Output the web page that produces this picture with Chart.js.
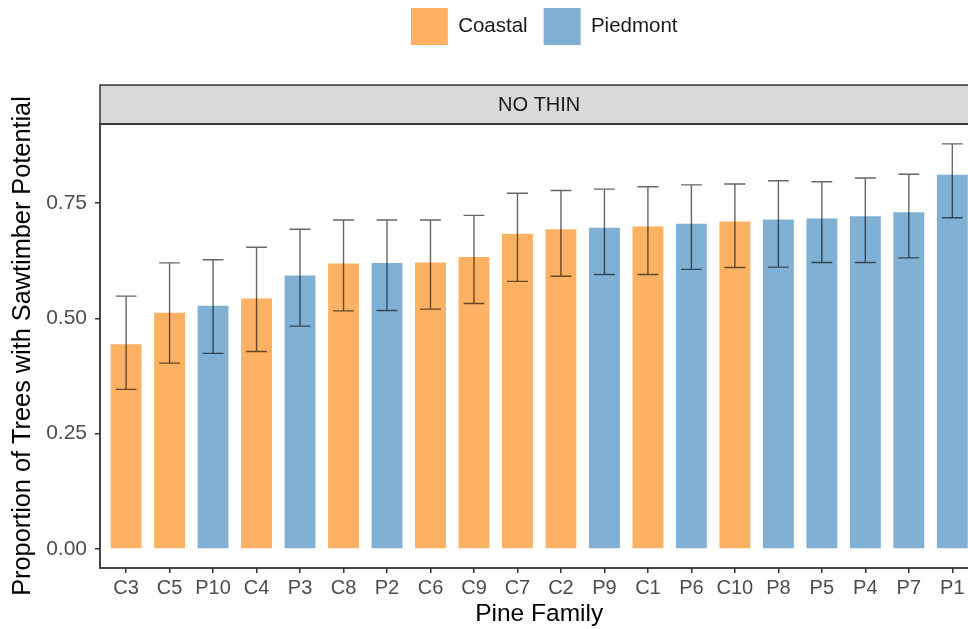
<!DOCTYPE html>
<html>
<head>
<meta charset="utf-8">
<script src="https://cdn.jsdelivr.net/npm/chart.js@4/dist/chart.umd.min.js"></script>
<style>
  html, body { margin: 0; padding: 0; background: #fff; overflow: hidden; }
  #wrap { width: 968px; height: 629px; overflow: hidden; }
  canvas { display: block; }
</style>
</head>
<body>
<div id="wrap"><canvas id="chart" width="980" height="629"></canvas></div>
<script>
// families, sorted by mean proportion
const families = ['C3', 'C5', 'P10', 'C4', 'P3', 'C8', 'P2', 'C6', 'C9', 'C7', 'C2', 'P9', 'C1', 'P6', 'C10', 'P8', 'P5', 'P4', 'P7', 'P1'];
const regions = ['Coastal', 'Coastal', 'Piedmont', 'Coastal', 'Piedmont', 'Coastal', 'Piedmont', 'Coastal', 'Coastal', 'Coastal',
                 'Coastal', 'Piedmont', 'Coastal', 'Piedmont', 'Coastal', 'Piedmont', 'Piedmont', 'Piedmont', 'Piedmont', 'Piedmont'];
const means = [0.444, 0.512, 0.527, 0.543, 0.593, 0.619, 0.620, 0.621, 0.633, 0.683, 0.693, 0.696, 0.699, 0.705, 0.710, 0.714, 0.716, 0.721, 0.730, 0.811];
const lower = [0.346, 0.403, 0.424, 0.428, 0.483, 0.516, 0.517, 0.520, 0.532, 0.580, 0.591, 0.595, 0.595, 0.606, 0.610, 0.611, 0.621, 0.621, 0.631, 0.718];
const upper = [0.548, 0.620, 0.627, 0.654, 0.693, 0.713, 0.713, 0.713, 0.723, 0.771, 0.777, 0.780, 0.785, 0.789, 0.791, 0.798, 0.796, 0.804, 0.812, 0.878];
const yTicks = [0, 0.25, 0.5, 0.75];
const facetLabel = 'NO THIN';

const colors = { Coastal: '#FCB262', Piedmont: '#80B0D3' };
const FONT = '"Liberation Sans", Arial, sans-serif';

function seriesFor(region) {
  const pts = [];
  families.forEach((f, i) => {
    if (regions[i] === region) pts.push({ x: i, y: means[i], lo: lower[i], hi: upper[i] });
  });
  return pts;
}

// strip, panel border and error bars
const facetPlugin = {
  id: 'facet',
  afterLayout(chart) {
    // nudge legend right, like the ggplot legend
    chart.legend.left += 5;
    chart.legend.right += 5;
  },
  afterDatasetsDraw(chart) {
    const { ctx, chartArea: a, scales: { x, y } } = chart;
    ctx.save();
    ctx.strokeStyle = 'rgba(0,0,0,0.6)';
    ctx.lineWidth = 1.4;
    const half = x.getPixelForValue(0.24) - x.getPixelForValue(0);
    chart.data.datasets.forEach(ds => {
      ds.data.forEach(p => {
        const px = x.getPixelForValue(p.x);
        const yl = y.getPixelForValue(p.lo), yh = y.getPixelForValue(p.hi);
        ctx.beginPath();
        ctx.moveTo(px, yl); ctx.lineTo(px, yh);
        ctx.moveTo(px - half, yh); ctx.lineTo(px + half, yh);
        ctx.moveTo(px - half, yl); ctx.lineTo(px + half, yl);
        ctx.stroke();
      });
    });
    // strip
    const sh = 39;
    ctx.fillStyle = '#D9D9D9';
    ctx.fillRect(a.left, a.top - sh, a.right - a.left, sh);
    ctx.strokeStyle = '#333333';
    ctx.lineWidth = 1.5;
    ctx.strokeRect(a.left, a.top - sh, a.right - a.left, sh);
    ctx.fillStyle = '#1A1A1A';
    ctx.font = '20px ' + FONT;
    ctx.textAlign = 'center';
    ctx.textBaseline = 'middle';
    ctx.fillText(facetLabel, (a.left + a.right) / 2, a.top - sh / 2 + 1);
    // panel border
    ctx.lineWidth = 1.8;
    ctx.strokeRect(a.left, a.top, a.right - a.left, a.bottom - a.top);
    ctx.restore();
  }
};

new Chart(document.getElementById('chart'), {
  type: 'bar',
  data: {
    datasets: ['Coastal', 'Piedmont'].map(r => ({
      label: r,
      data: seriesFor(r),
      backgroundColor: colors[r],
      borderWidth: 0,
      grouped: false,
      barPercentage: 0.71,
      categoryPercentage: 1
    }))
  },
  options: {
    responsive: false,
    animation: false,
    layout: { padding: { top: -8, left: 0, right: 1.6, bottom: 0 } },
    scales: {
      x: {
        type: 'linear',
        min: -0.6,
        max: 19.6,
        offset: false,
        afterBuildTicks: s => { s.ticks = families.map((_, i) => ({ value: i })); },
        afterFit: s => { s.height = 61; },
        ticks: {
          autoSkip: false,
          maxRotation: 0,
          padding: 3,
          color: '#4D4D4D',
          font: { family: FONT, size: 20 },
          callback: v => families[v]
        },
        grid: { offset: false, drawOnChartArea: false, tickLength: 5, color: '#333333', lineWidth: 1.5 },
        border: { display: false },
        title: {
          display: true,
          text: 'Pine Family',
          color: '#000',
          font: { family: FONT, size: 24.5 },
          padding: { top: 0, bottom: 0 }
        }
      },
      strip: {
        type: 'linear',
        position: 'top',
        display: true,
        afterFit: s => { s.height = 69; },
        ticks: { display: false },
        grid: { display: false },
        border: { display: false }
      },
      y: {
        min: -0.041,
        max: 0.921,
        afterBuildTicks: s => { s.ticks = yTicks.map(v => ({ value: v })); },
        afterFit: s => { s.width = 100; },
        ticks: {
          padding: 8,
          color: '#4D4D4D',
          font: { family: FONT, size: 21 },
          callback: v => v.toFixed(2)
        },
        grid: { drawOnChartArea: false, tickLength: 5, color: '#333333', lineWidth: 1.5 },
        border: { display: false },
        title: {
          display: true,
          text: 'Proportion of Trees with Sawtimber Potential',
          color: '#000',
          font: { family: FONT, size: 25.3 },
          padding: { top: 8, bottom: 0 }
        }
      }
    },
    plugins: {
      legend: {
        position: 'top',
        fullSize: false,
        labels: {
          boxWidth: 37,
          boxHeight: 37,
          padding: 16,
          color: '#1A1A1A',
          font: { family: FONT, size: 20.5 }
        }
      },
      tooltip: { enabled: false }
    }
  },
  plugins: [facetPlugin]
});
</script>
</body>
</html>
